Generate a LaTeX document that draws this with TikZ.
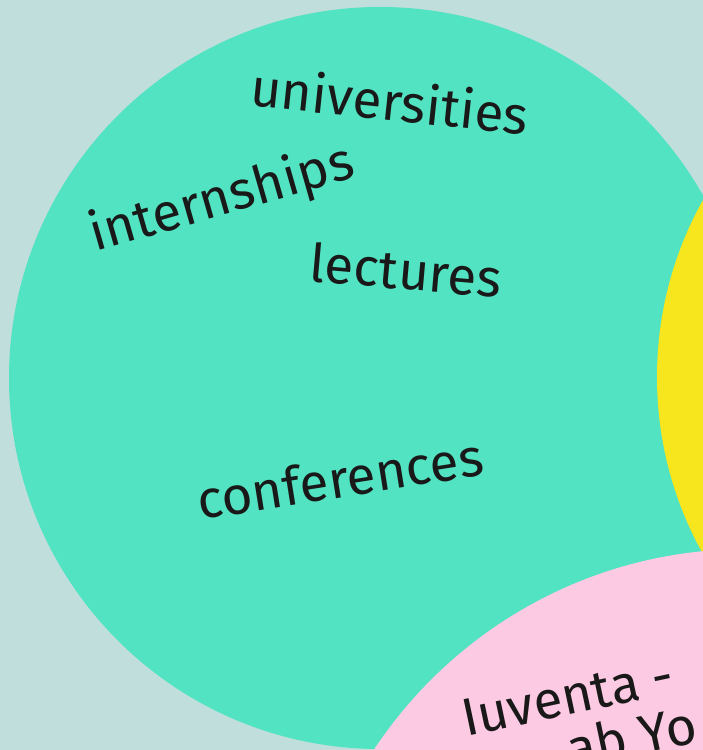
\documentclass[tikz,border=0pt]{standalone}
\usepackage{fontspec}
\setmainfont{Fira Sans}
\definecolor{bgcol}{RGB}{192,222,220}
\definecolor{tealcol}{RGB}{82,227,194}
\definecolor{yellowcol}{RGB}{247,230,30}
\definecolor{pinkcol}{RGB}{253,202,228}
\begin{document}
\begin{tikzpicture}[
   x=1pt, y=-1pt,
   bubble/.style={circle, inner sep=0, draw=none},
   word/.style={inner sep=0, text=black!90, font=\fontsize{53}{60}\selectfont}
  ]
  \useasboundingbox (0,0) rectangle (703,750);
  \clip (0,0) rectangle (703,750);
  \fill[bgcol] (0,0) rectangle (703,750);
  % bubbles
  \node[bubble, fill=tealcol, minimum size=742pt] (edu) at (380,378) {};
  \node[bubble, fill=yellowcol, minimum size=726pt] (mid) at (1020,377) {};
  \node[bubble, fill=pinkcol, minimum size=894pt] (sea) at (747,996) {};
  % words
  \node[word, rotate=-6] (uni) at (390,100) {universities};
  \node[word, rotate=16] (intern) at (222,200) {internships};
  \node[word, rotate=-5] (lect) at (406,270) {lectures};
  \node[word, rotate=9] (conf) at (340,478) {conferences};
  \node[word, rotate=12, anchor=base west] (iuv) at (466,737) {Iuventa -};
  \node[word, rotate=12, anchor=base west] (iuvb) at (571,769) {ab Yo};
\end{tikzpicture}
\end{document}
